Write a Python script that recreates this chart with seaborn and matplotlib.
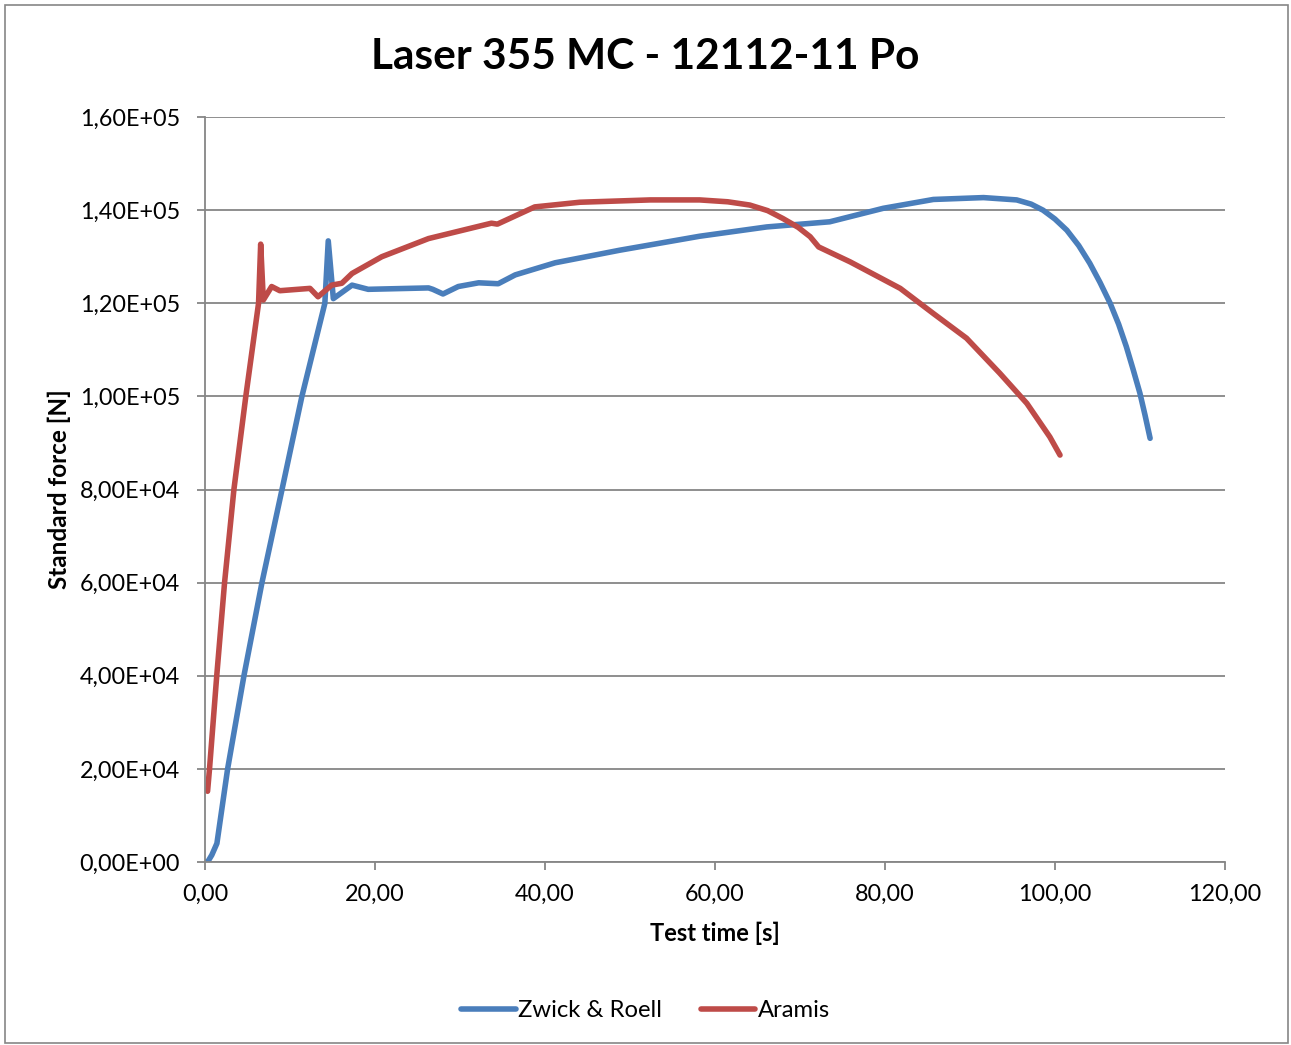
import matplotlib
matplotlib.use("Agg")
import matplotlib.pyplot as plt
import seaborn as sns
import pandas as pd
from matplotlib.patches import Rectangle

# Zwick & Roell machine data (test time [s], standard force [N])
zwick_t = [0.0, 0.3, 0.8, 1.4, 2.66, 4.58, 6.7, 9.06, 11.4, 14.1, 14.5, 15.1, 17.3, 19.2,
           26.3, 26.8, 28.0, 29.8, 32.2, 34.5, 36.5, 41.2, 48.8, 58.2, 66.1, 73.5,
           79.8, 85.7, 91.6, 95.5, 97.2, 98.6, 100.0, 101.4, 102.8, 104.1, 105.3,
           106.5, 107.5, 108.4, 109.2, 110.0, 110.6, 111.2]
zwick_f = [0, 0, 1500, 4000, 20000, 40000, 60000, 80000, 100000, 120000, 133400, 121000,
           123900, 123000, 123300, 123000, 122000, 123600, 124400, 124200, 126100,
           128700, 131400, 134400, 136400, 137500, 140400, 142300, 142700, 142200,
           141300, 140000, 138100, 135700, 132400, 128600, 124500,
           120000, 115500, 110700, 105800, 100700, 96000, 91000]

# Aramis optical measurement
aramis_t = [0.3, 0.53, 1.38, 2.3, 3.4, 4.8, 6.3, 6.55, 6.86, 7.84, 8.8, 12.35, 13.3,
            14.9, 16.1, 17.3, 20.8, 26.3, 33.7, 34.4, 38.8, 44.1, 52.4, 58.2, 61.5,
            64.1, 66.2, 68.0, 69.8, 71.2, 72.2, 75.9, 81.8, 85.7, 89.6, 93.5, 96.7,
            99.4, 100.6]
aramis_f = [15200, 20000, 40000, 60000, 80000, 100000, 120000, 132700, 120700, 123600,
            122700, 123200, 121400, 123900, 124300, 126400, 130000, 133900, 137200,
            137000, 140700, 141700, 142200, 142200, 141800, 141100, 139900, 138200,
            136300, 134300, 132100, 128900, 123200, 117800, 112500, 105000, 98500,
            91300, 87400]

series_names = ["Zwick & Roell", "Aramis"]
x_ticks = [0, 20, 40, 60, 80, 100, 120]
x_tick_labels = ["0,00", "20,00", "40,00", "60,00", "80,00", "100,00", "120,00"]
y_ticks = [0, 20000, 40000, 60000, 80000, 100000, 120000, 140000, 160000]
y_tick_labels = ["0,00E+00", "2,00E+04", "4,00E+04", "6,00E+04", "8,00E+04",
                 "1,00E+05", "1,20E+05", "1,40E+05", "1,60E+05"]

df = pd.concat([
    pd.DataFrame({"t": zwick_t, "F": zwick_f, "series": series_names[0]}),
    pd.DataFrame({"t": aramis_t, "F": aramis_f, "series": series_names[1]}),
])

sns.set_style("white")
plt.rcParams["font.family"] = ["Lato", "DejaVu Sans"]
plt.rcParams["text.color"] = "black"
plt.rcParams["axes.labelcolor"] = "black"
plt.rcParams["xtick.labelcolor"] = "black"
plt.rcParams["ytick.labelcolor"] = "black"

fig = plt.figure(figsize=(12.91, 10.45), dpi=100)
ax = fig.add_axes([0.1588, 0.1751, 0.79, 0.7129])

# chart area border
fig.patches.append(Rectangle((0.004, 0.002), 0.994, 0.993, transform=fig.transFigure,
                             fill=False, edgecolor="#868686", linewidth=1.2))

sns.lineplot(data=df, x="t", y="F", hue="series", sort=False, ax=ax,
             palette={"Zwick & Roell": "#4A7EBB", "Aramis": "#BE4B48"},
             linewidth=4.0, legend=True)
for line in ax.lines:
    line.set_solid_capstyle("round")
    line.set_solid_joinstyle("round")

ax.set_xlim(0, 120)
ax.set_ylim(0, 160000)
ax.set_xticks(x_ticks)
ax.set_xticklabels(x_tick_labels)
ax.set_yticks(y_ticks)
ax.set_yticklabels(y_tick_labels)
ax.yaxis.grid(True, color="#868686", linewidth=1.3)
ax.set_axisbelow(True)
for s in ["top", "right"]:
    ax.spines[s].set_visible(False)
for s in ["left", "bottom"]:
    ax.spines[s].set_color("#868686")
    ax.spines[s].set_linewidth(1.3)
ax.tick_params(axis="both", direction="out", length=6, width=1.3, color="#868686",
               labelsize=16.8, left=True, bottom=True)
ax.tick_params(axis="y", pad=12)
ax.tick_params(axis="x", pad=10)

ax.set_xlabel("Test time [s]", fontsize=17, fontweight="bold", labelpad=12)
ax.set_ylabel("Standard force [N]", fontsize=17.5, fontweight="bold", labelpad=6)
fig.text(0.5, 0.945, "Laser 355 MC - 12112-11 Po", fontsize=30.5, fontweight="bold",
         ha="center", va="center")

handles, labels = ax.get_legend_handles_labels()
ax.legend(handles, labels, loc="center", bbox_to_anchor=(0.5, 0.033),
          bbox_transform=fig.transFigure, frameon=False, ncol=2, fontsize=17.2,
          handlelength=2.3, handletextpad=0.1, columnspacing=1.6)

fig.savefig("out.png", dpi=100)
plt.close()
